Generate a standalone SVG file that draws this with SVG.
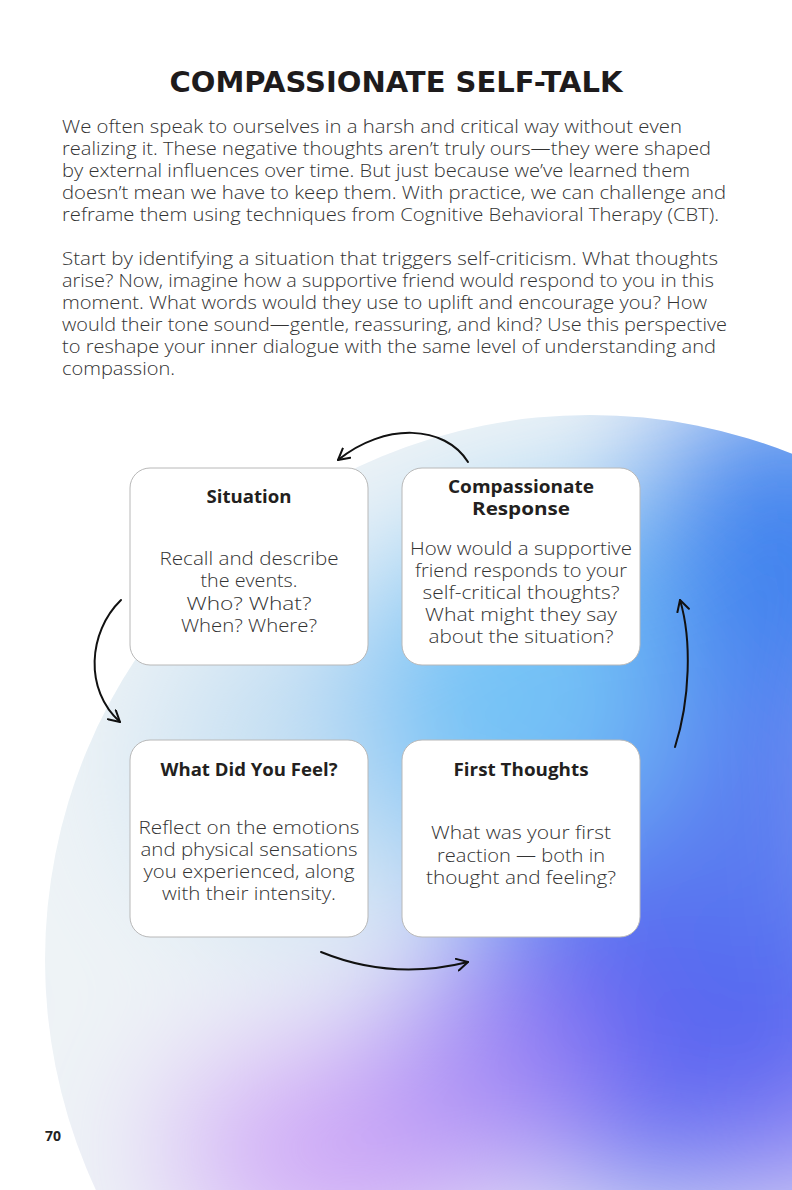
<svg xmlns="http://www.w3.org/2000/svg" width="792" height="1190" viewBox="0 0 792 1190">
<defs>
<style>
.title{font-family:"DejaVu Sans","Liberation Sans",sans-serif;font-weight:bold;font-size:29px;fill:#1e1b1c;text-anchor:middle}
.body{font-family:"Open Sans","Liberation Sans",sans-serif;font-weight:300;font-size:17.5px;fill:#333}
.box{fill:#ffffff;stroke:#b8b8b8;stroke-width:1}
.bt{font-family:"Open Sans","Liberation Sans",sans-serif;font-weight:bold;font-size:17px;fill:#231f20;text-anchor:middle}
.bb{font-family:"Open Sans","Liberation Sans",sans-serif;font-weight:300;font-size:17.5px;fill:#333;text-anchor:middle}
.conn{fill:none;stroke:#111;stroke-width:2;stroke-linecap:round}
.pg{font-family:"Open Sans","Liberation Sans",sans-serif;font-weight:bold;font-size:14px;fill:#222}
</style>
<clipPath id="blobclip"><circle cx="590" cy="960" r="545"/></clipPath>
<filter id="blur" x="-50%" y="-50%" width="200%" height="200%"><feGaussianBlur stdDeviation="70"/></filter>
<marker id="ah" viewBox="0 0 14 14" refX="12" refY="7" markerWidth="14" markerHeight="14" markerUnits="userSpaceOnUse" orient="auto">
<path d="M1,1 L12,7 L1,13" fill="none" stroke="#111" stroke-width="2" stroke-linecap="round" stroke-linejoin="round"/>
</marker>
</defs>
<rect x="0" y="0" width="792" height="1190" fill="#ffffff"/>
<g id="background" clip-path="url(#blobclip)">
<rect x="0" y="380" width="792" height="810" fill="#eef3f6"/>
<g filter="url(#blur)">
<ellipse cx="300" cy="760" rx="150" ry="170" fill="#c9e1f3"/>
<ellipse cx="570" cy="700" rx="220" ry="190" fill="#74c2f6"/>
<ellipse cx="790" cy="560" rx="150" ry="180" fill="#3f82ee"/>
<ellipse cx="690" cy="1010" rx="240" ry="190" fill="#5463f0"/>
<ellipse cx="770" cy="820" rx="130" ry="150" fill="#5a7cf0"/>
<ellipse cx="340" cy="1150" rx="170" ry="100" fill="#cda4f7"/>
<ellipse cx="490" cy="1070" rx="120" ry="90" fill="#a387f5"/>
<ellipse cx="820" cy="1160" rx="100" ry="60" fill="#9a8cf5"/>
</g>
</g>
<text class="title" x="396" y="92" textLength="453" lengthAdjust="spacingAndGlyphs">COMPASSIONATE SELF-TALK</text>
<g id="intro">
<text class="body" x="62" y="133" textLength="620" lengthAdjust="spacingAndGlyphs">We often speak to ourselves in a harsh and critical way without even</text>
<text class="body" x="62" y="155" textLength="649" lengthAdjust="spacingAndGlyphs">realizing it. These negative thoughts aren’t truly ours—they were shaped</text>
<text class="body" x="62" y="177" textLength="628" lengthAdjust="spacingAndGlyphs">by external influences over time. But just because we’ve learned them</text>
<text class="body" x="62" y="199" textLength="664" lengthAdjust="spacingAndGlyphs">doesn’t mean we have to keep them. With practice, we can challenge and</text>
<text class="body" x="62" y="221" textLength="657" lengthAdjust="spacingAndGlyphs">reframe them using techniques from Cognitive Behavioral Therapy (CBT).</text>
<text class="body" x="62" y="265" textLength="656" lengthAdjust="spacingAndGlyphs">Start by identifying a situation that triggers self-criticism. What thoughts</text>
<text class="body" x="62" y="287" textLength="652" lengthAdjust="spacingAndGlyphs">arise? Now, imagine how a supportive friend would respond to you in this</text>
<text class="body" x="62" y="309" textLength="645" lengthAdjust="spacingAndGlyphs">moment. What words would they use to uplift and encourage you? How</text>
<text class="body" x="62" y="331" textLength="665" lengthAdjust="spacingAndGlyphs">would their tone sound—gentle, reassuring, and kind? Use this perspective</text>
<text class="body" x="62" y="353" textLength="654" lengthAdjust="spacingAndGlyphs">to reshape your inner dialogue with the same level of understanding and</text>
<text class="body" x="62" y="375" textLength="113" lengthAdjust="spacingAndGlyphs">compassion.</text>
</g>
<g id="connectors">
<path class="conn" d="M468 462 C445 425 385 422 338 460" marker-end="url(#ah)"/>
<path class="conn" d="M121 600 C88 632 84 690 120 722" marker-end="url(#ah)"/>
<path class="conn" d="M321 952 C370 972 420 974 468 962" marker-end="url(#ah)"/>
<path class="conn" d="M675 747 C690 700 692 640 680 600" marker-end="url(#ah)"/>
</g>
<g id="situation">
<rect class="box" x="130" y="468" width="238" height="197" rx="20"/>
<text class="bt" x="249" y="503" textLength="85" lengthAdjust="spacingAndGlyphs">Situation</text>
<text class="bb" x="249" y="565" textLength="179" lengthAdjust="spacingAndGlyphs">Recall and describe</text>
<text class="bb" x="249" y="587" textLength="97" lengthAdjust="spacingAndGlyphs">the events.</text>
<text class="bb" x="249" y="610" textLength="125" lengthAdjust="spacingAndGlyphs">Who? What?</text>
<text class="bb" x="249" y="632" textLength="136" lengthAdjust="spacingAndGlyphs">When? Where?</text>
</g>
<g id="compassionate-response">
<rect class="box" x="402" y="468" width="238" height="197" rx="20"/>
<text class="bt" x="521" y="493" textLength="146" lengthAdjust="spacingAndGlyphs">Compassionate</text>
<text class="bt" x="521" y="515" textLength="98" lengthAdjust="spacingAndGlyphs">Response</text>
<text class="bb" x="521" y="555" textLength="222" lengthAdjust="spacingAndGlyphs">How would a supportive</text>
<text class="bb" x="521" y="577" textLength="212" lengthAdjust="spacingAndGlyphs">friend responds to your</text>
<text class="bb" x="521" y="599" textLength="197" lengthAdjust="spacingAndGlyphs">self-critical thoughts?</text>
<text class="bb" x="521" y="621" textLength="192" lengthAdjust="spacingAndGlyphs">What might they say</text>
<text class="bb" x="521" y="643" textLength="185" lengthAdjust="spacingAndGlyphs">about the situation?</text>
</g>
<g id="what-did-you-feel">
<rect class="box" x="130" y="740" width="238" height="197" rx="20"/>
<text class="bt" x="249" y="776" textLength="177" lengthAdjust="spacingAndGlyphs">What Did You Feel?</text>
<text class="bb" x="249" y="834" textLength="221" lengthAdjust="spacingAndGlyphs">Reflect on the emotions</text>
<text class="bb" x="249" y="856" textLength="217" lengthAdjust="spacingAndGlyphs">and physical sensations</text>
<text class="bb" x="249" y="878" textLength="211" lengthAdjust="spacingAndGlyphs">you experienced, along</text>
<text class="bb" x="249" y="900" textLength="174" lengthAdjust="spacingAndGlyphs">with their intensity.</text>
</g>
<g id="first-thoughts">
<rect class="box" x="402" y="740" width="238" height="197" rx="20"/>
<text class="bt" x="521" y="776" textLength="135" lengthAdjust="spacingAndGlyphs">First Thoughts</text>
<text class="bb" x="521" y="839" textLength="180" lengthAdjust="spacingAndGlyphs">What was your first</text>
<text class="bb" x="521" y="862" textLength="168" lengthAdjust="spacingAndGlyphs">reaction — both in</text>
<text class="bb" x="521" y="884" textLength="190" lengthAdjust="spacingAndGlyphs">thought and feeling?</text>
</g>
<text class="pg" x="45" y="1141">70</text>
</svg>
